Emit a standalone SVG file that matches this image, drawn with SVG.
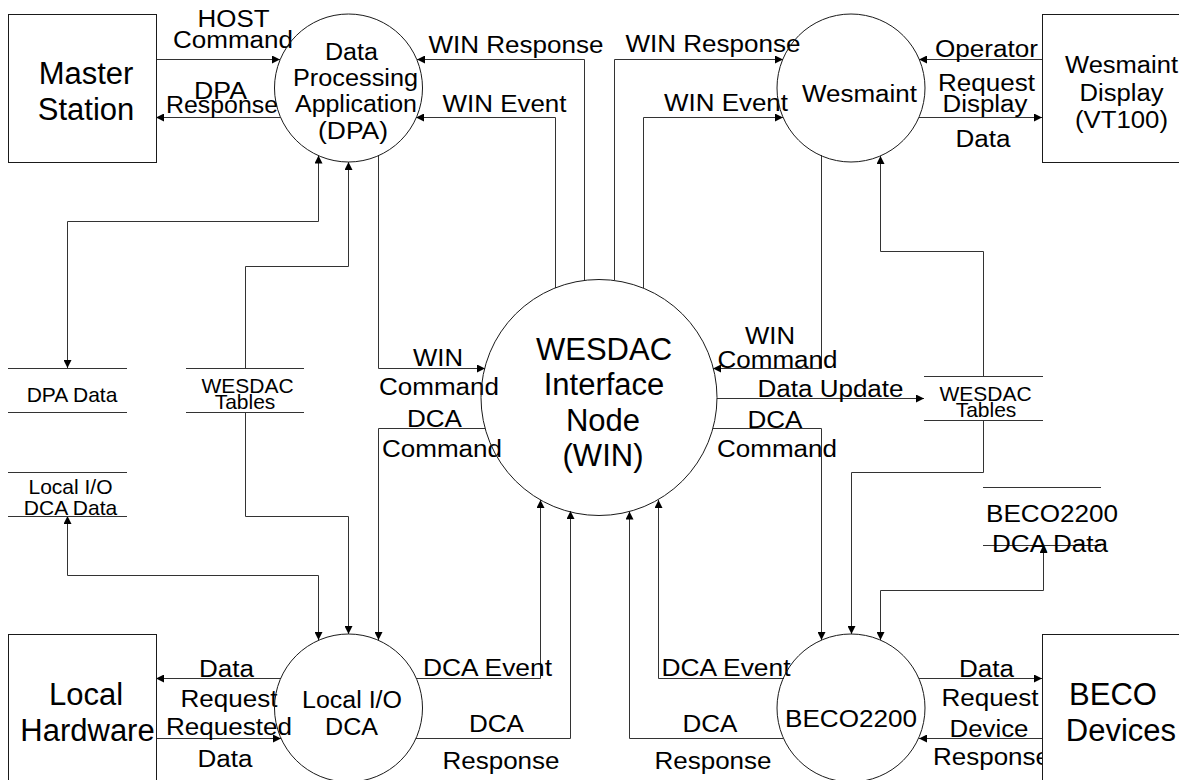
<svg xmlns="http://www.w3.org/2000/svg" width="1179" height="780" viewBox="0 0 1179 780">
<style>
text{font-family:"Liberation Sans",Arial,Helvetica,sans-serif;fill:#000;text-anchor:middle}
.big{font-size:31px}
.mid{font-size:23px}
.lbl{font-size:23px}
.st{font-size:21px}
.shape{fill:#fff;stroke:#1a1a1a;stroke-width:1}
.sl{stroke:#333;stroke-width:1;fill:none}
.c{stroke:#333;stroke-width:1;fill:none;marker-end:url(#ah)}
.c2{stroke:#333;stroke-width:1;fill:none;marker-end:url(#ah);marker-start:url(#ah)}
</style>
<defs>
<marker id="ah" viewBox="0 0 10 10" refX="10" refY="5" markerWidth="9" markerHeight="8" markerUnits="userSpaceOnUse" orient="auto-start-reverse">
<path d="M0,0 L10,5 L0,10 z" fill="#000"/>
</marker>
</defs>
<rect width="1179" height="780" fill="#fff"/>

<g id="connectors">
<path class="c" d="M156,59.5 H280"/>
<path class="c" d="M280.5,117.5 H156"/>
<path class="c" d="M584.5,280 V59.5 H417"/>
<path class="c" d="M555.5,288 V117.5 H416"/>
<path class="c" d="M614.5,280 V59.5 H783"/>
<path class="c" d="M643.5,288 V117.5 H783"/>
<path class="c" d="M1042,59.5 H919"/>
<path class="c" d="M919,117.5 H1042"/>
<path class="c" d="M821.5,155 V368.5 H713"/>
<path class="c" d="M717,398.5 H924"/>
<path class="c" d="M713,428.5 H821.5 V640"/>
<path class="c" d="M983.5,376 V251.5 H880.5 V156"/>
<path class="c" d="M983.5,420 V472.5 H851.5 V634"/>
<path class="c2" d="M880.5,640 V590.5 H1043.5 V545"/>
<path class="c" d="M784,678.5 H658.5 V500"/>
<path class="c" d="M783,738.5 H629.5 V511.5"/>
<path class="c" d="M919,678.5 H1042"/>
<path class="c" d="M1042,738.5 H919"/>
<path class="c" d="M416,678.5 H540.5 V500"/>
<path class="c" d="M416,738.5 H570.5 V511"/>
<path class="c" d="M281,678.5 H156"/>
<path class="c" d="M156,738.5 H281"/>
<path class="c2" d="M318.5,155.5 V221.5 H67.5 V368"/>
<path class="c" d="M245.5,368 V266.5 H348.5 V162"/>
<path class="c" d="M378.5,155.5 V368.5 H485"/>
<path class="c" d="M485,428.5 H378.5 V640"/>
<path class="c" d="M245.5,412 V516.5 H348.5 V634"/>
<path class="c2" d="M67.5,516 V575.5 H318.5 V640"/>
<g id="labels" class="lbl">
<text x="233.5" y="27" textLength="72" lengthAdjust="spacingAndGlyphs">HOST</text>
<text x="233" y="48" textLength="120" lengthAdjust="spacingAndGlyphs">Command</text>
<text x="220.5" y="99" textLength="53" lengthAdjust="spacingAndGlyphs">DPA</text>
<text x="222" y="113" textLength="112" lengthAdjust="spacingAndGlyphs">Response</text>
<text x="516" y="53" textLength="175" lengthAdjust="spacingAndGlyphs">WIN Response</text>
<text x="504.5" y="112" textLength="124" lengthAdjust="spacingAndGlyphs">WIN Event</text>
<text x="713" y="52" textLength="175" lengthAdjust="spacingAndGlyphs">WIN Response</text>
<text x="726" y="111" textLength="124" lengthAdjust="spacingAndGlyphs">WIN Event</text>
<text x="986.5" y="57" textLength="103" lengthAdjust="spacingAndGlyphs">Operator</text>
<text x="986.5" y="91" textLength="97" lengthAdjust="spacingAndGlyphs">Request</text>
<text x="985" y="112" textLength="85" lengthAdjust="spacingAndGlyphs">Display</text>
<text x="983" y="147" textLength="55" lengthAdjust="spacingAndGlyphs">Data</text>
<text x="770" y="344" textLength="50" lengthAdjust="spacingAndGlyphs">WIN</text>
<text x="777.5" y="368" textLength="120" lengthAdjust="spacingAndGlyphs">Command</text>
<text x="830.5" y="397" textLength="146" lengthAdjust="spacingAndGlyphs">Data Update</text>
<text x="775" y="428" textLength="55" lengthAdjust="spacingAndGlyphs">DCA</text>
<text x="777" y="457" textLength="120" lengthAdjust="spacingAndGlyphs">Command</text>
<text x="438" y="366" textLength="50" lengthAdjust="spacingAndGlyphs">WIN</text>
<text x="439" y="395" textLength="120" lengthAdjust="spacingAndGlyphs">Command</text>
<text x="434.5" y="427" textLength="55" lengthAdjust="spacingAndGlyphs">DCA</text>
<text x="442" y="457" textLength="120" lengthAdjust="spacingAndGlyphs">Command</text>
<text x="226.5" y="677" textLength="55" lengthAdjust="spacingAndGlyphs">Data</text>
<text x="229" y="707" textLength="97" lengthAdjust="spacingAndGlyphs">Request</text>
<text x="229" y="735" textLength="126" lengthAdjust="spacingAndGlyphs">Requested</text>
<text x="225" y="767" textLength="55" lengthAdjust="spacingAndGlyphs">Data</text>
<text x="487.5" y="676" textLength="129" lengthAdjust="spacingAndGlyphs">DCA Event</text>
<text x="496.5" y="732" textLength="55" lengthAdjust="spacingAndGlyphs">DCA</text>
<text x="501" y="769" textLength="117" lengthAdjust="spacingAndGlyphs">Response</text>
<text x="726" y="676" textLength="129" lengthAdjust="spacingAndGlyphs">DCA Event</text>
<text x="710" y="732" textLength="55" lengthAdjust="spacingAndGlyphs">DCA</text>
<text x="713" y="769" textLength="117" lengthAdjust="spacingAndGlyphs">Response</text>
<text x="986.5" y="677" textLength="55" lengthAdjust="spacingAndGlyphs">Data</text>
<text x="990" y="706" textLength="97" lengthAdjust="spacingAndGlyphs">Request</text>
<text x="989" y="737" textLength="79" lengthAdjust="spacingAndGlyphs">Device</text>
<text x="991.5" y="765" textLength="117" lengthAdjust="spacingAndGlyphs">Response</text>
</g>
</g>

<g id="master-station">
<rect class="shape" x="8.5" y="14.5" width="148" height="148"/>
<text class="big" x="86" y="84">Master</text>
<text class="big" x="86" y="120">Station</text>
</g>

<g id="wesmaint-display">
<rect class="shape" x="1042.5" y="14.5" width="160" height="148"/>
<text class="mid" x="1121.5" y="73" textLength="113" lengthAdjust="spacingAndGlyphs">Wesmaint</text>
<text class="mid" x="1121.5" y="101" textLength="84" lengthAdjust="spacingAndGlyphs">Display</text>
<text class="mid" x="1121.5" y="128" textLength="93" lengthAdjust="spacingAndGlyphs">(VT100)</text>
</g>

<g id="local-hardware">
<rect class="shape" x="8.5" y="634.5" width="148" height="160"/>
<text class="big" x="86" y="705">Local</text>
<text class="big" x="87.5" y="741">Hardware</text>
</g>

<g id="beco-devices">
<rect class="shape" x="1042.5" y="634.5" width="160" height="160"/>
<text class="big" x="1113" y="705">BECO</text>
<text class="big" x="1121" y="741">Devices</text>
</g>

<g id="dpa">
<circle class="shape" cx="348.5" cy="88" r="74" fill="none" style="fill:none"/>
<text class="mid" x="351.5" y="60" textLength="53" lengthAdjust="spacingAndGlyphs">Data</text>
<text class="mid" x="355.5" y="86" textLength="125" lengthAdjust="spacingAndGlyphs">Processing</text>
<text class="mid" x="356" y="112" textLength="122" lengthAdjust="spacingAndGlyphs">Application</text>
<text class="mid" x="353" y="139" textLength="70" lengthAdjust="spacingAndGlyphs">(DPA)</text>
</g>

<g id="wesmaint">
<circle class="shape" cx="851" cy="88" r="74" style="fill:none"/>
<text class="mid" x="859.5" y="102" textLength="115" lengthAdjust="spacingAndGlyphs">Wesmaint</text>
</g>

<g id="win">
<circle class="shape" cx="599" cy="397.5" r="118" style="fill:none"/>
<text class="big" x="604" y="360">WESDAC</text>
<text class="big" x="604" y="395">Interface</text>
<text class="big" x="603" y="431">Node</text>
<text class="big" x="603" y="466">(WIN)</text>
</g>

<g id="local-io-dca">
<circle class="shape" cx="348.5" cy="708" r="74" style="fill:none"/>
<text class="mid" x="352" y="708" textLength="100" lengthAdjust="spacingAndGlyphs">Local I/O</text>
<text class="mid" x="351.5" y="735" textLength="53" lengthAdjust="spacingAndGlyphs">DCA</text>
</g>

<g id="beco2200">
<circle class="shape" cx="851" cy="708" r="74" style="fill:none"/>
<text class="mid" x="851" y="727" textLength="132" lengthAdjust="spacingAndGlyphs">BECO2200</text>
</g>

<g id="store-dpa-data">
<path class="sl" d="M8,368.5 H127 M8,412.5 H127"/>
<text class="st" x="72" y="402">DPA Data</text>
</g>

<g id="store-wesdac-tables-left">
<path class="sl" d="M186,368.5 H304 M186,412.5 H304"/>
<text class="st" x="247.5" y="393">WESDAC</text>
<text class="st" x="245" y="409">Tables</text>
</g>

<g id="store-local-io-dca-data">
<path class="sl" d="M8,472.5 H127 M8,516.5 H127"/>
<text class="st" x="70.5" y="494">Local I/O</text>
<text class="st" x="70.5" y="515">DCA Data</text>
</g>

<g id="store-wesdac-tables-right">
<path class="sl" d="M924,376.5 H1043 M924,420.5 H1043"/>
<text class="st" x="985.5" y="401">WESDAC</text>
<text class="st" x="986" y="417">Tables</text>
</g>

<g id="store-beco2200-dca-data">
<path class="sl" d="M983,487.5 H1101 M983,545.5 H1101"/>
<text class="mid" x="1052" y="522" textLength="132" lengthAdjust="spacingAndGlyphs">BECO2200</text>
<text class="mid" x="1050" y="552" textLength="116" lengthAdjust="spacingAndGlyphs">DCA Data</text>
</g>
</svg>
